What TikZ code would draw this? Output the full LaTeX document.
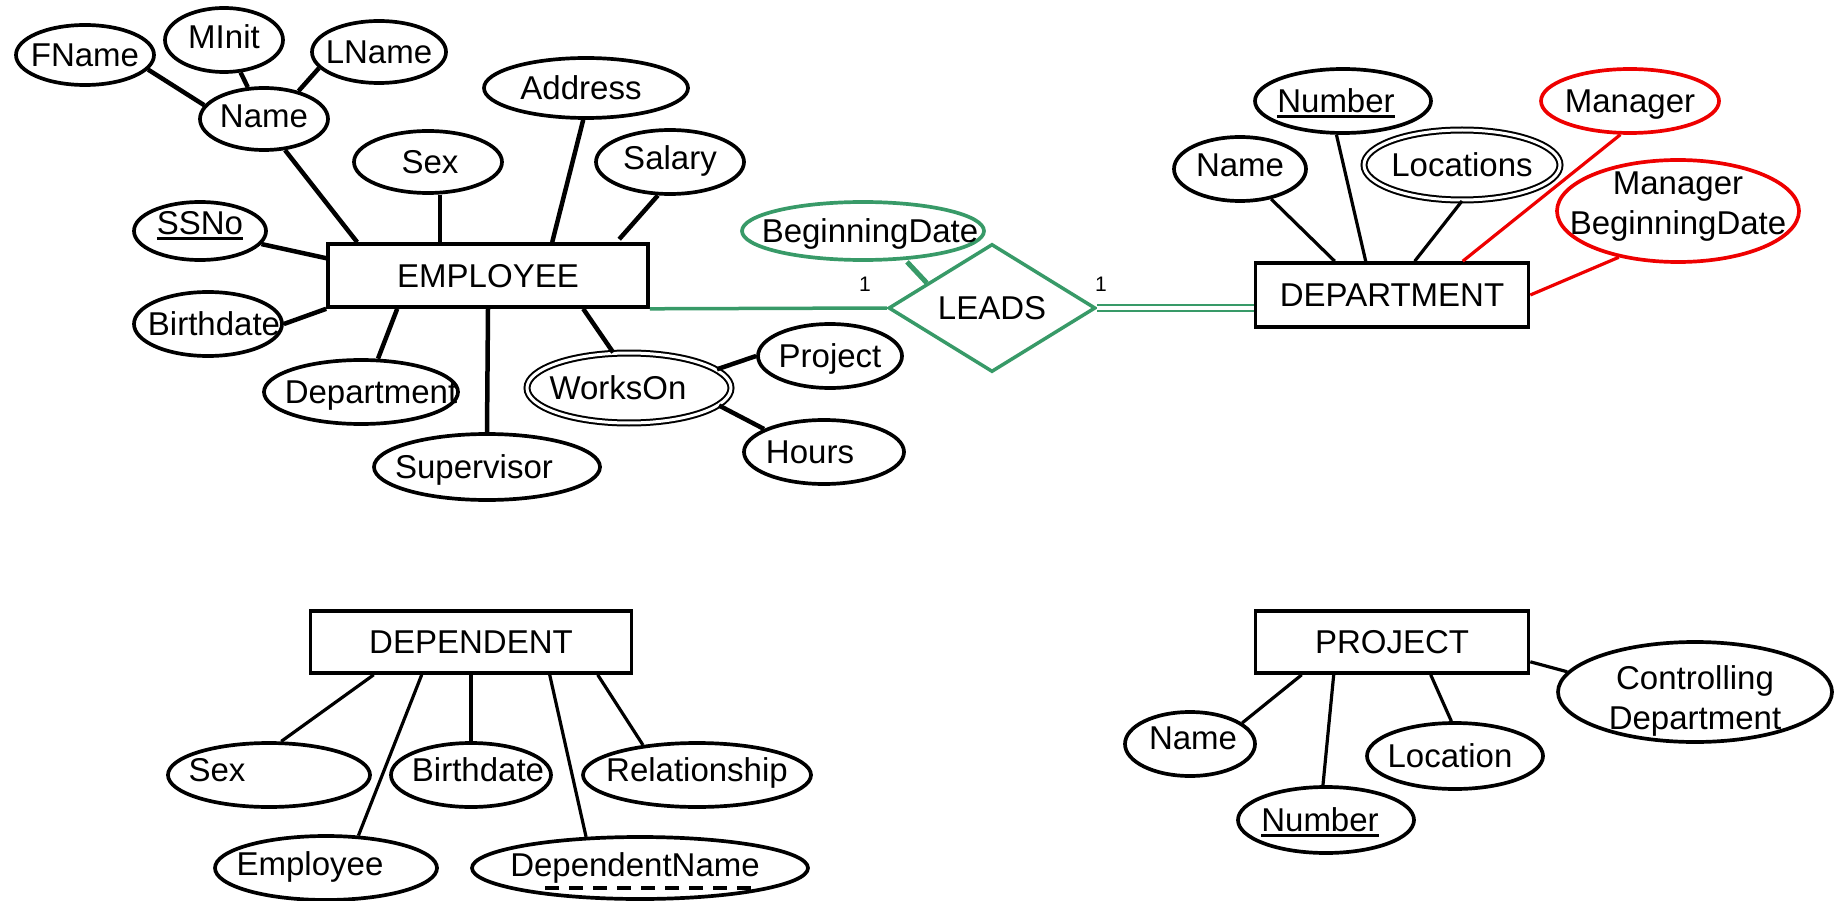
\documentclass[tikz,border=0pt]{standalone}
\usepackage{fontspec}
\setmainfont{Liberation Sans}
\usetikzlibrary{shapes.geometric}
\definecolor{relgreen}{RGB}{56,154,104}
\definecolor{mgrred}{RGB}{238,0,0}
% key attribute: text with a solid underline
\newcommand{\keyattr}[1]{\setbox0=\hbox{#1}\rlap{\rule[-5pt]{\wd0}{2.4pt}}\box0}
\begin{document}
\begin{tikzpicture}[x=1pt,y=-1pt,
  every node/.style={font=\fontsize{33}{40}\selectfont},
  every label/.style={text height=23.5pt, text depth=0pt, inner sep=0pt},
  entity/.style={draw, rectangle, line width=3.6pt, inner sep=0pt,
                 text height=23.5pt, text depth=0pt},
  attr/.style={draw, ellipse, line width=3.7pt, inner sep=0pt},
  multi/.style={attr, double, double distance=3pt, line width=2pt},
  sz/.style 2 args={minimum width=#1pt, minimum height=#2pt},
  twolines/.style={align=center, text height={}, text depth={}},
  eline/.style={line width=4.5pt},
  dline/.style={line width=3.2pt},
  card/.style={font=\fontsize{21}{24}\selectfont, inner sep=0pt}
]
\useasboundingbox (0,0) rectangle (1836,901);

% ---------------- EMPLOYEE ----------------
\node[entity, sz={320}{63}] (emp) at (488,275.5) {EMPLOYEE};
\node[attr, sz={138}{60}, label={center:FName}] (fname) at (85,55) {};
\node[attr, sz={118}{64}, label={[yshift=3pt]center:MInit}] (minit) at (224,40) {};
\node[attr, sz={134}{62}, label={center:LName}] (lname) at (379,52) {};
\node[attr, sz={128}{62}, label={[yshift=3pt]center:Name}] (ename) at (264,119) {};
\node[attr, sz={204}{60}, label={[xshift=-5pt]center:Address}] (addr) at (586,88) {};
\node[attr, sz={148}{62}, label={[xshift=2pt]center:Sex}] (esex) at (428,162) {};
\node[attr, sz={148}{64}, label={[yshift=4pt]center:Salary}] (salary) at (670,162) {};
\node[attr, sz={132}{58}, label={[yshift=8pt]center:\keyattr{SSNo}}] (ssno) at (200,231) {};
\node[attr, sz={148}{64}, label={[xshift=6pt]center:Birthdate}] (ebirth) at (208,324) {};
\node[attr, sz={194}{64}, label={[xshift=10pt]center:Department}] (edept) at (361,392) {};
\node[attr, sz={226}{66}, label={[xshift=-13pt]center:Supervisor}] (super) at (487,467) {};
\node[multi, sz={204}{70}, label={[xshift=-11pt]center:WorksOn}] (works) at (629,388) {};
\node[attr, sz={144}{64}, label={center:Project}] (wproj) at (830,356) {};
\node[attr, sz={160}{64}, label={[xshift=-14pt]center:Hours}] (hours) at (824,452) {};

\draw[eline] (fname.-13) -- (ename.167);
\draw[eline] (minit.-63) -- (ename.117);
\draw[eline] (lname.-165) -- (ename.39);
\draw[eline] (ename.-56) -- ([xshift=31pt]emp.north west);
\draw[eline] ([xshift=12pt]esex.south) -- ([xshift=12pt]esex.south |- emp.north);
\draw[eline] (addr.-95) -- ([xshift=226pt]emp.north west);
\draw[eline] (salary.-110) -- ([xshift=293pt,yshift=3pt]emp.north west);
\draw[eline] (ssno.-12) -- ([yshift=-16pt]emp.north west);
\draw[eline] (ebirth.east) -- (emp.south west);
\draw[eline] (edept.63) -- ([xshift=71pt]emp.south west);
\draw[eline] (emp.south) -- (super.north);
\draw[eline] (works.114) -- ([xshift=257pt]emp.south west);
\draw[eline] (works.12) -- (wproj.west);
\draw[eline] (works.-11) -- (hours.159);

% ---------------- DEPARTMENT ----------------
\node[entity, sz={273}{64}] (dept) at (1392,295) {DEPARTMENT};
\node[attr, sz={132}{64}, label={[yshift=4pt]center:Name}] (dname) at (1240,169) {};
\node[attr, sz={176}{64}, label={[xshift=-7pt]center:\keyattr{Number}}] (dnum) at (1343,101) {};
\node[multi, sz={196}{70}, label={center:Locations}] (dloc) at (1462,165) {};
\node[attr, draw=mgrred, sz={178}{64}, label={center:Manager}] (mgr) at (1630,101) {};
\node[attr, draw=mgrred, sz={242}{102},
      label={[twolines, yshift=4pt]center:Manager\\BeginningDate}] (mgrbd) at (1678,211) {};

\draw[dline] (dname.-44) -- ([xshift=81pt]dept.north west);
\draw[dline] (dnum.-101) -- ([xshift=112pt]dept.north west);
\draw[dline] (dloc.south) -- ([xshift=161pt]dept.north west);
\draw[dline, mgrred] (mgr.-106) -- ([xshift=209pt]dept.north west);
\draw[dline, mgrred] (mgrbd.-142) -- (dept.east);

% ---------------- LEADS ----------------
\node[draw=relgreen, diamond, line width=3.5pt, inner sep=0pt, sz={207}{128},
      label={center:LEADS}] (leads) at (992,308) {};
\node[attr, draw=relgreen, sz={242}{58}, label={[xshift=7pt]center:BeginningDate}] (bdate) at (863,231) {};
\draw[relgreen, line width=5pt] ([xshift=44pt]bdate.south) -- (leads.159);
\draw[relgreen, line width=3.5pt] (emp.south east) -- (leads.west);
\draw[relgreen, line width=2.2pt, double, double distance=3.5pt] (leads.east) -- (leads.east -| dept.west);
\node[card] (one1) at (865,284) {1};
\node[card] (one2) at (1101,284) {1};

% ---------------- DEPENDENT ----------------
\node[entity, sz={321}{62}] (dep) at (471,642) {DEPENDENT};
\node[attr, sz={202}{64}, label={[xshift=-52pt,yshift=5pt]center:Sex}] (dsex) at (269,775) {};
\node[attr, sz={160}{64}, label={[xshift=7pt,yshift=5pt]center:Birthdate}] (dbirth) at (471,775) {};
\node[attr, sz={228}{64}, label={[yshift=5pt]center:Relationship}] (drel) at (697,775) {};
\node[attr, sz={222}{64}, label={[xshift=-16pt,yshift=4pt]center:Employee}] (demp) at (326,868) {};
\node[attr, sz={336}{62}, label={[xshift=-5pt,yshift=3pt]center:DependentName}] (dname2) at (640,868) {};
\draw[line width=3.4pt, dash pattern=on 14pt off 10pt]
  ([xshift=-95pt,yshift=-20pt]dname2.center) -- ([xshift=117pt,yshift=-20pt]dname2.center);

\draw[dline] (dsex.70) -- ([xshift=65pt]dep.south west);
\draw[dline] (demp.45) -- ([xshift=113pt]dep.south west);
\draw[dline] (dbirth.north) -- (dep.south);
\draw[dline] (dname2.150) -- ([xshift=241pt]dep.south west);
\draw[dline] (drel.151) -- ([xshift=289pt]dep.south west);

% ---------------- PROJECT ----------------
\node[entity, sz={273}{62}] (proj) at (1392,642) {PROJECT};
\node[attr, sz={130}{64}, label={[xshift=3pt,yshift=6pt]center:Name}] (pname) at (1190,744) {};
\node[attr, sz={176}{66}, label={[xshift=-6pt]center:\keyattr{Number}}] (pnum) at (1326,820) {};
\node[attr, sz={176}{66}, label={[xshift=-5pt]center:Location}] (ploc) at (1455,756) {};
\node[attr, sz={274}{100},
      label={[twolines, yshift=-9pt]center:Controlling\\Department}] (pctrl) at (1695,692) {};

\draw[dline] (pname.22) -- ([xshift=48pt]proj.south west);
\draw[dline] (pnum.95) -- ([xshift=80pt]proj.south west);
\draw[dline] (ploc.96) -- ([xshift=177pt]proj.south west);
\draw[dline] (pctrl.171) -- ([yshift=13pt]proj.south east);
\end{tikzpicture}
\end{document}
